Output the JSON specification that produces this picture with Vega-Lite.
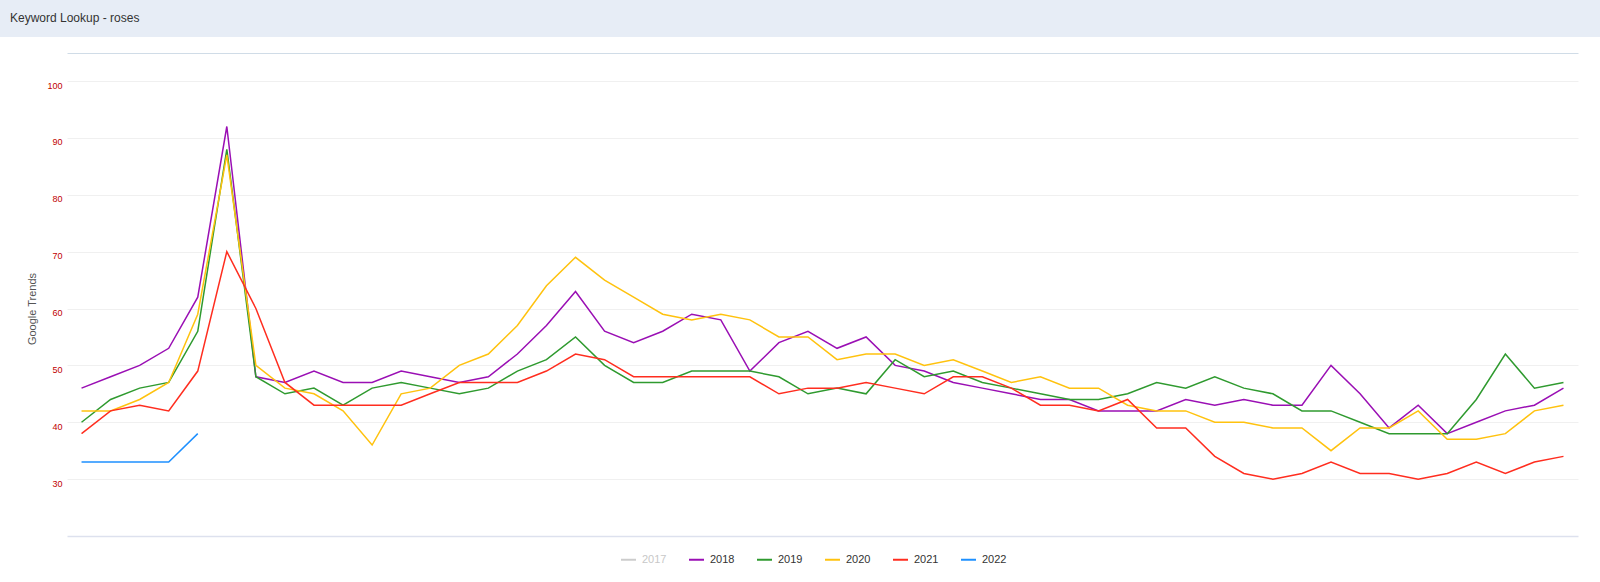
{
  "$schema": "https://vega.github.io/schema/vega-lite/v6.json",
  "background": "white",
  "padding": 0,
  "autosize": {"type": "pad"},
  "spacing": 0,
  "config": {"font": "Liberation Sans", "view": {"stroke": null}},
  "vconcat": [
    {
      "width": 1600,
      "height": 37,
      "view": {"fill": "#e7edf6", "stroke": null},
      "title": {"text": "Keyword Lookup - roses", "anchor": "start", "frame": "group", "orient": "top", "offset": 0, "dx": 10, "dy": 25, "fontSize": 12, "fontWeight": "normal", "color": "#333333", "font": "Liberation Sans"},
      "data": {"values": [{}]},
      "mark": {"type": "point", "opacity": 0},
      "encoding": {}
    },
    {
      "width": 1600,
      "height": 545,
      "view": {"fill": "white", "stroke": null},
      "data": {"values": [
        {"week": 1, "2018": 46, "2019": 40, "2020": 42, "2021": 38, "2022": 33},
        {"week": 2, "2018": 48, "2019": 44, "2020": 42, "2021": 42, "2022": 33},
        {"week": 3, "2018": 50, "2019": 46, "2020": 44, "2021": 43, "2022": 33},
        {"week": 4, "2018": 53, "2019": 47, "2020": 47, "2021": 42, "2022": 33},
        {"week": 5, "2018": 62, "2019": 56, "2020": 59, "2021": 49, "2022": 38},
        {"week": 6, "2018": 92, "2019": 88, "2020": 87, "2021": 70},
        {"week": 7, "2018": 48, "2019": 48, "2020": 50, "2021": 60},
        {"week": 8, "2018": 47, "2019": 45, "2020": 46, "2021": 47},
        {"week": 9, "2018": 49, "2019": 46, "2020": 45, "2021": 43},
        {"week": 10, "2018": 47, "2019": 43, "2020": 42, "2021": 43},
        {"week": 11, "2018": 47, "2019": 46, "2020": 36, "2021": 43},
        {"week": 12, "2018": 49, "2019": 47, "2020": 45, "2021": 43},
        {"week": 13, "2018": 48, "2019": 46, "2020": 46, "2021": 45},
        {"week": 14, "2018": 47, "2019": 45, "2020": 50, "2021": 47},
        {"week": 15, "2018": 48, "2019": 46, "2020": 52, "2021": 47},
        {"week": 16, "2018": 52, "2019": 49, "2020": 57, "2021": 47},
        {"week": 17, "2018": 57, "2019": 51, "2020": 64, "2021": 49},
        {"week": 18, "2018": 63, "2019": 55, "2020": 69, "2021": 52},
        {"week": 19, "2018": 56, "2019": 50, "2020": 65, "2021": 51},
        {"week": 20, "2018": 54, "2019": 47, "2020": 62, "2021": 48},
        {"week": 21, "2018": 56, "2019": 47, "2020": 59, "2021": 48},
        {"week": 22, "2018": 59, "2019": 49, "2020": 58, "2021": 48},
        {"week": 23, "2018": 58, "2019": 49, "2020": 59, "2021": 48},
        {"week": 24, "2018": 49, "2019": 49, "2020": 58, "2021": 48},
        {"week": 25, "2018": 54, "2019": 48, "2020": 55, "2021": 45},
        {"week": 26, "2018": 56, "2019": 45, "2020": 55, "2021": 46},
        {"week": 27, "2018": 53, "2019": 46, "2020": 51, "2021": 46},
        {"week": 28, "2018": 55, "2019": 45, "2020": 52, "2021": 47},
        {"week": 29, "2018": 50, "2019": 51, "2020": 52, "2021": 46},
        {"week": 30, "2018": 49, "2019": 48, "2020": 50, "2021": 45},
        {"week": 31, "2018": 47, "2019": 49, "2020": 51, "2021": 48},
        {"week": 32, "2018": 46, "2019": 47, "2020": 49, "2021": 48},
        {"week": 33, "2018": 45, "2019": 46, "2020": 47, "2021": 46},
        {"week": 34, "2018": 44, "2019": 45, "2020": 48, "2021": 43},
        {"week": 35, "2018": 44, "2019": 44, "2020": 46, "2021": 43},
        {"week": 36, "2018": 42, "2019": 44, "2020": 46, "2021": 42},
        {"week": 37, "2018": 42, "2019": 45, "2020": 43, "2021": 44},
        {"week": 38, "2018": 42, "2019": 47, "2020": 42, "2021": 39},
        {"week": 39, "2018": 44, "2019": 46, "2020": 42, "2021": 39},
        {"week": 40, "2018": 43, "2019": 48, "2020": 40, "2021": 34},
        {"week": 41, "2018": 44, "2019": 46, "2020": 40, "2021": 31},
        {"week": 42, "2018": 43, "2019": 45, "2020": 39, "2021": 30},
        {"week": 43, "2018": 43, "2019": 42, "2020": 39, "2021": 31},
        {"week": 44, "2018": 50, "2019": 42, "2020": 35, "2021": 33},
        {"week": 45, "2018": 45, "2019": 40, "2020": 39, "2021": 31},
        {"week": 46, "2018": 39, "2019": 38, "2020": 39, "2021": 31},
        {"week": 47, "2018": 43, "2019": 38, "2020": 42, "2021": 30},
        {"week": 48, "2018": 38, "2019": 38, "2020": 37, "2021": 31},
        {"week": 49, "2018": 40, "2019": 44, "2020": 37, "2021": 33},
        {"week": 50, "2018": 42, "2019": 52, "2020": 38, "2021": 31},
        {"week": 51, "2018": 43, "2019": 46, "2020": 42, "2021": 33},
        {"week": 52, "2018": 46, "2019": 47, "2020": 43, "2021": 34}
      ]},
      "transform": [
        {"fold": ["2018", "2019", "2020", "2021", "2022"], "as": ["year", "value"]},
        {"filter": "datum.value != null"}
      ],
      "layer": [
        {
          "mark": {"type": "line", "strokeWidth": 1.5},
          "encoding": {
            "x": {
              "field": "week", "type": "ordinal",
              "scale": {"type": "point", "range": [67, 1578], "padding": 0.5},
              "axis": {"orient": "bottom", "offset": -46, "labels": false, "ticks": false, "title": null, "grid": false, "domainColor": "#dde1ee", "domainWidth": 1.5}
            },
            "y": {
              "field": "value", "type": "quantitative",
              "scale": {"domain": [20, 100], "range": [499, 44], "nice": false, "zero": false},
              "axis": {
                "orient": "left", "offset": -67, "values": [30, 40, 50, 60, 70, 80, 90, 100],
                "domain": false, "ticks": false, "grid": true, "gridColor": "#f0f0f0", "gridWidth": 1,
                "labelColor": "#c00000", "labelFontSize": 9, "labelFont": "Liberation Sans", "labelPadding": 5, "labelBaseline": "middle", "labelOffset": 4,
                "title": "Google Trends", "titleColor": "#555555", "titleFontSize": 11, "titleFontWeight": "normal", "titleFont": "Liberation Sans", "titlePadding": 9
              }
            },
            "color": {
              "field": "year", "type": "nominal",
              "scale": {"domain": ["2017", "2018", "2019", "2020", "2021", "2022"], "range": ["#cccccc", "#9a0fb4", "#2f9a2f", "#ffc20e", "#ff2d1f", "#1e90ff"]},
              "legend": {
                "orient": "none", "legendX": 620, "legendY": 551, "direction": "horizontal", "title": null,
                "symbolType": "stroke", "symbolSize": 225, "symbolStrokeWidth": 2,
                "labelFontSize": 11, "labelFont": "Liberation Sans", "labelColor": "#333333", "labelOffset": 5,
                "columnPadding": 18, "padding": 0,
                "encode": {"labels": {"update": {"fill": {"signal": "datum.label === '2017' ? '#c8c8c8' : '#333333'"}}}}
              }
            }
          }
        },
        {
          "mark": {"type": "line", "opacity": 0},
          "encoding": {
            "x": {"field": "week", "type": "ordinal", "axis": {"orient": "top", "offset": -16, "labels": false, "ticks": false, "title": null, "grid": false, "domainColor": "#d0dce7", "domainWidth": 1}}
          }
        }
      ]
    }
  ]
}
